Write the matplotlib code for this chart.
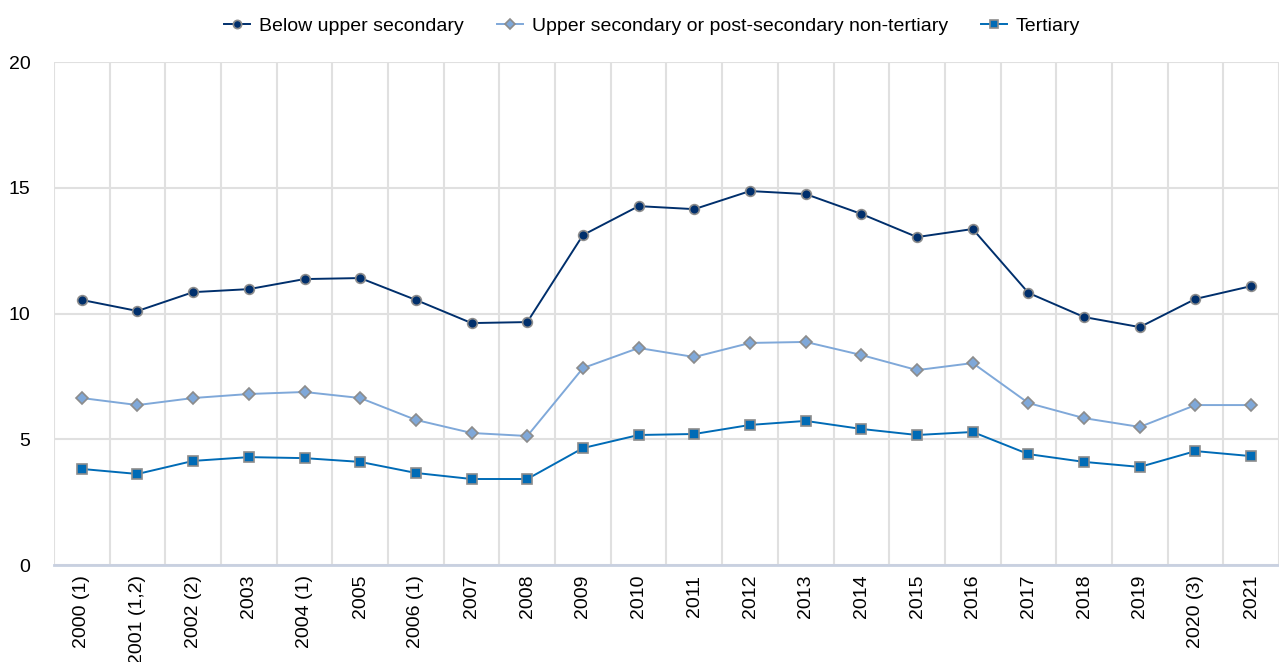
import matplotlib.pyplot as plt
import numpy as np

plt.rcParams['font.family'] = ['Liberation Sans', 'DejaVu Sans']

# ==================== DATA ====================
years = ["2000 (1)", "2001 (1,2)", "2002 (2)", "2003", "2004 (1)", "2005", "2006 (1)",
         "2007", "2008", "2009", "2010", "2011", "2012", "2013", "2014", "2015",
         "2016", "2017", "2018", "2019", "2020 (3)", "2021"]

below_upper = [10.54, 10.1, 10.85, 10.97, 11.37, 11.41, 10.54, 9.62, 9.66, 13.12, 14.27,
               14.15, 14.87, 14.75, 13.96, 13.04, 13.36, 10.82, 9.86, 9.46, 10.58, 11.09]
upper_secondary = [6.64, 6.36, 6.64, 6.8, 6.88, 6.64, 5.77, 5.25, 5.13, 7.83, 8.63,
                   8.27, 8.83, 8.87, 8.35, 7.75, 8.03, 6.44, 5.84, 5.49, 6.36, 6.36]
tertiary = [3.82, 3.62, 4.14, 4.29, 4.25, 4.1, 3.66, 3.42, 3.42, 4.65, 5.17,
            5.21, 5.57, 5.73, 5.41, 5.17, 5.29, 4.41, 4.1, 3.9, 4.53, 4.33]

series = [
    ("Below upper secondary", below_upper, "#002f6c", "o", 7),
    ("Upper secondary or post-secondary non-tertiary", upper_secondary, "#7fa8d9", "D", 6),
    ("Tertiary", tertiary, "#006bb6", "s", 7),
]

# ==================== PLOT ====================
fig = plt.figure(figsize=(12.79, 6.62), dpi=100)
ax = fig.add_axes([0.0422, 0.1465, 0.9578, 0.7598])

x = np.arange(len(years))
for label, vals, color, marker, ms in series:
    ax.plot(x, vals, color=color, lw=1.4, marker=marker, markersize=ms,
            markerfacecolor=color, markeredgecolor="#8c8c8c", markeredgewidth=1.2,
            label=label, zorder=3)

ax.set_xlim(-0.5, len(years) - 0.5)
ax.set_ylim(0, 20)
ax.set_yticks([0, 5, 10, 15, 20])
ax.set_xticks(x)
ax.set_xticklabels(years, rotation=90, va="top", ha="center")
ax.set_xticks(np.arange(-0.5, len(years), 1), minor=True)

ax.grid(axis="y", color="#e0e0e0", lw=1.5)
ax.grid(axis="x", which="minor", color="#e0e0e0", lw=1.5)
ax.set_axisbelow(True)
ax.tick_params(axis="both", which="both", length=0, labelsize=14, colors="black")
ax.tick_params(axis="y", pad=17)
ax.tick_params(axis="x", pad=7)

for s in ["top", "right", "left"]:
    ax.spines[s].set_visible(False)
ax.spines["bottom"].set_color("#c8d0e0")
ax.spines["bottom"].set_linewidth(2)

fig.legend(loc="upper center", bbox_to_anchor=(0.51, 1.0), ncol=3, frameon=False,
           fontsize=14, handlelength=1.35, columnspacing=1.7, handletextpad=0.45,
           markerscale=0.85)

plt.savefig("out.png", dpi=100, facecolor="white")
